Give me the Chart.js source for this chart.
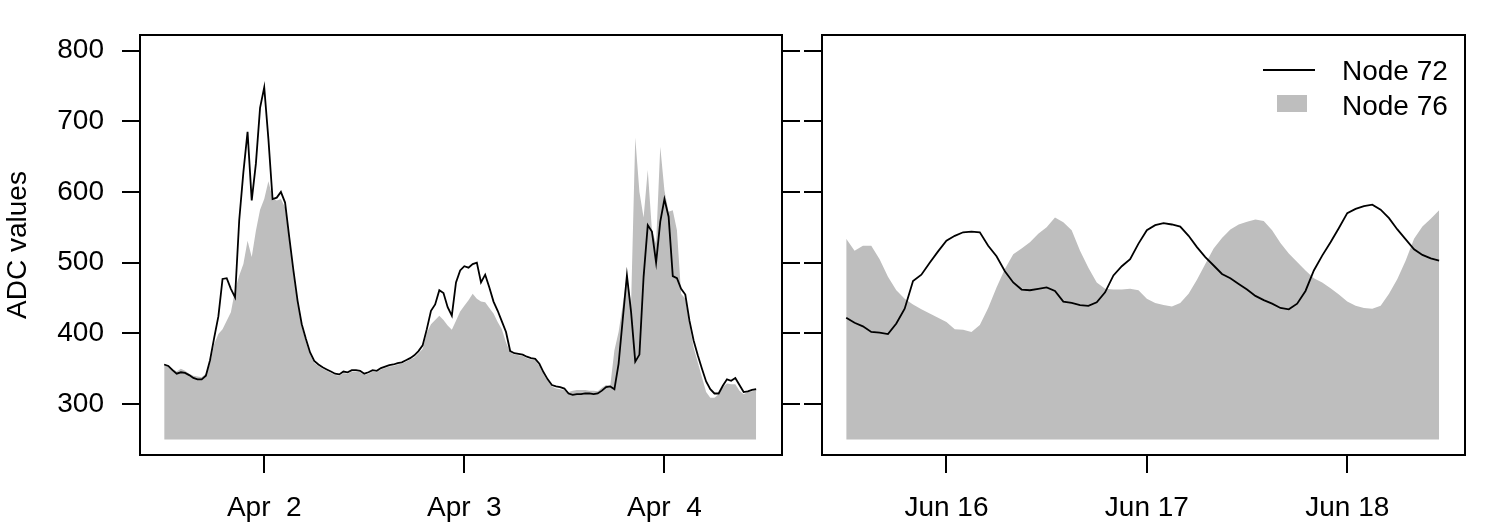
<!DOCTYPE html>
<html lang="en">
<head>
<meta charset="UTF-8">
<title>ADC values - Node 72 / Node 76</title>
<script src="https://cdn.jsdelivr.net/npm/chart.js"></script>
<style>
  body { margin: 0; background: #fff; }
  #wrap { position: relative; width: 1500px; height: 525px; }
  #leftChart { position: absolute; left: 0; top: 0; }
  #rightChart { position: absolute; left: 804px; top: 0; }
</style>
</head>
<body>
<div id="wrap">
  <canvas id="leftChart" width="800" height="525"></canvas>
  <canvas id="rightChart" width="696" height="525"></canvas>
</div>
<script>
// x = hours after midnight of the first labelled day (Apr 2 / Jun 16)
const aprStart = -12, aprStep = 0.5;   // Apr 1 12:00, every 30 min
const junStart = -12, junStep = 1;     // Jun 15 12:00, every hour

const aprTickHours = [0, 24, 48];
const aprTickLabels = ['Apr  2', 'Apr  3', 'Apr  4'];
const junTickHours = [0, 24, 48];
const junTickLabels = ['Jun 16', 'Jun 17', 'Jun 18'];
const yTicks = [300, 400, 500, 600, 700, 800];

const aprNode72 = [
  356, 354, 348, 343, 345, 344, 341, 337, 335, 335,
  340, 362, 394, 424, 477, 478, 463, 451, 560, 628,
  685, 588, 640, 719, 748, 675, 590, 592, 600, 585,
  536, 489, 446, 413, 392, 373, 361, 356, 352, 349,
  346, 343, 342, 346, 345, 348, 348, 347, 343, 345,
  348, 347, 351, 353, 355, 356, 358, 359, 362, 365,
  369, 375, 383, 406, 432, 441, 461, 457, 437, 425,
  472, 489, 495, 493, 498, 500, 472, 483, 465, 445,
  432, 417, 402, 375, 372, 371, 370, 367, 365, 364,
  357, 345, 335, 327, 325, 324, 322, 315, 313, 314,
  314, 315, 315, 314, 315, 319, 324, 325, 321, 357,
  420, 482, 430, 360, 370, 480, 553, 544, 500, 558,
  590, 565, 481, 478, 463, 455, 418, 390, 369, 350,
  332, 321, 315, 315, 326, 335, 333, 337, 327, 317,
  318, 320, 321
];
const aprNode76 = [
  357, 354, 350, 346, 350, 347, 343, 340, 339, 338,
  343, 357, 385, 399, 406, 418, 430, 461, 482, 498,
  531, 508, 545, 575, 590, 615, 592, 588, 590, 578,
  530, 484, 442, 409, 388, 370, 358, 354, 350, 347,
  344, 341, 340, 344, 343, 346, 346, 345, 341, 343,
  346, 345, 349, 351, 353, 354, 356, 357, 360, 363,
  366, 372, 378, 401, 413, 419, 425, 419, 411, 405,
  418, 431, 439, 447, 456, 449, 445, 444, 436, 428,
  416, 406, 387, 373, 370, 369, 368, 365, 363, 362,
  354, 342, 333, 325, 322, 321, 320, 317, 319, 320,
  320, 320, 319, 319, 318, 323, 327, 326, 376, 402,
  440, 484, 442, 677, 600, 564, 631, 546, 527, 664,
  602, 572, 574, 546, 456, 449, 413, 380, 359, 338,
  317, 309, 309, 314, 324, 329, 328, 328, 319, 314,
  317, 318, 319
];

const junNode72 = [
  422, 415, 410, 402, 401, 399, 414, 435, 474, 483, 500, 516,
  531, 538, 543, 544, 543, 524, 509, 488, 472, 462, 461, 463,
  465, 460, 445, 443, 440, 439, 444, 458, 482, 495, 505, 527,
  546, 553, 556, 554, 551, 538, 522, 508, 496, 484, 478, 470,
  462, 453, 447, 442, 436, 434, 442, 460, 489, 510, 529, 549,
  570, 576, 580, 582, 575, 563, 547, 533, 519, 511, 506, 503
];
const junNode76 = [
  534, 517, 524, 524, 505, 480, 461, 449, 441, 434, 428, 422,
  416, 406, 405, 402, 412, 436, 465, 491, 512, 520, 529, 541,
  550, 564, 557, 546, 517, 493, 472, 463, 462, 462, 463, 461,
  449, 443, 440, 438, 443, 456, 476, 498, 520, 535, 547, 554,
  558, 561, 559, 546, 528, 513, 501, 489, 478, 472, 464, 455,
  445, 439, 436, 435, 439, 456, 477, 503, 534, 551, 562, 574
];

const FONT = { family: '"Liberation Sans", Arial, Helvetica, sans-serif', size: 28 };

function toPoints(start, step, vals) {
  return vals.map((v, i) => ({ x: start + i * step, y: v }));
}

// full box around each plot region
const boxPlugin = {
  id: 'box',
  afterDraw(chart) {
    const { ctx, chartArea: a } = chart;
    ctx.save();
    ctx.strokeStyle = '#000';
    ctx.lineWidth = 2;
    ctx.strokeRect(a.left, a.top, a.right - a.left, a.bottom - a.top);
    ctx.restore();
  }
};

// legend in the top right corner of the June panel
const legendPlugin = {
  id: 'cornerLegend',
  afterDraw(chart) {
    const { ctx, chartArea: a } = chart;
    const ds = chart.data.datasets;
    ctx.save();
    ctx.font = FONT.size + 'px ' + FONT.family;
    ctx.fillStyle = '#000';
    ctx.textBaseline = 'alphabetic';
    ctx.textAlign = 'left';

    let y = a.top + 35;
    ctx.strokeStyle = ds[0].borderColor;
    ctx.lineWidth = ds[0].borderWidth;
    ctx.beginPath();
    ctx.moveTo(a.right - 202, y);
    ctx.lineTo(a.right - 150, y);
    ctx.stroke();
    ctx.fillText(ds[0].label, a.right - 123, y + 10);

    y = a.top + 70;
    ctx.fillStyle = ds[1].backgroundColor;
    ctx.fillRect(a.right - 188, y - 10, 30, 17);
    ctx.fillStyle = '#000';
    ctx.fillText(ds[1].label, a.right - 123, y + 10);
    ctx.restore();
  }
};

function makeChart(id, start, step, n72, n76, tickHours, tickLabels, isLeft) {
  const scales = {
    x: {
      type: 'linear',
      position: 'bottom',
      min: -14.9,
      max: 62.1,
      grid: { drawOnChartArea: false, tickLength: 18, color: '#000', lineWidth: 2 },
      border: { display: false },
      ticks: {
        color: '#000',
        font: FONT,
        padding: 18,
        maxRotation: 0,
        autoSkip: false,
        callback: (v) => tickLabels[tickHours.indexOf(v)]
      },
      afterBuildTicks: (s) => { s.ticks = tickHours.map(v => ({ value: v })); },
      afterFit: (s) => { s.height = 70; }
    },
    y: {
      position: 'left',
      min: 228,
      max: 822,
      grid: { drawOnChartArea: false, tickLength: 18, color: '#000', lineWidth: 2 },
      border: { display: false },
      ticks: { display: isLeft, color: '#000', font: FONT, padding: 18, callback: (v) => String(v) },
      title: { display: isLeft, text: 'ADC values', color: '#000', font: FONT, padding: { top: 1, bottom: 0 } },
      afterBuildTicks: (s) => { s.ticks = yTicks.map(v => ({ value: v })); },
      afterFit: (s) => { s.width = isLeft ? 140 : 18; }
    }
  };
  if (isLeft) {
    scales.y2 = {
      position: 'right',
      min: 228,
      max: 822,
      grid: { drawOnChartArea: false, tickLength: 18, color: '#000', lineWidth: 2 },
      border: { display: false },
      ticks: { display: false },
      afterBuildTicks: (s) => { s.ticks = yTicks.map(v => ({ value: v })); },
      afterFit: (s) => { s.width = 18; }
    };
  }

  return new Chart(document.getElementById(id), {
    type: 'line',
    data: {
      datasets: [
        {
          label: 'Node 72',
          data: toPoints(start, step, n72),
          borderColor: '#000',
          borderWidth: 1.8,
          pointRadius: 0,
          tension: 0,
          fill: false
        },
        {
          label: 'Node 76',
          data: toPoints(start, step, n76),
          borderWidth: 0,
          borderColor: 'rgba(0,0,0,0)',
          backgroundColor: '#BEBEBE',
          pointRadius: 0,
          tension: 0,
          fill: { value: 250 }
        }
      ]
    },
    options: {
      responsive: false,
      animation: false,
      layout: { padding: { top: 35, right: isLeft ? 0 : 35, left: 0, bottom: 0 } },
      plugins: { legend: { display: false }, tooltip: { enabled: false } },
      scales: scales
    },
    plugins: isLeft ? [boxPlugin] : [boxPlugin, legendPlugin]
  });
}

makeChart('leftChart', aprStart, aprStep, aprNode72, aprNode76, aprTickHours, aprTickLabels, true);
makeChart('rightChart', junStart, junStep, junNode72, junNode76, junTickHours, junTickLabels, false);
</script>
</body>
</html>
